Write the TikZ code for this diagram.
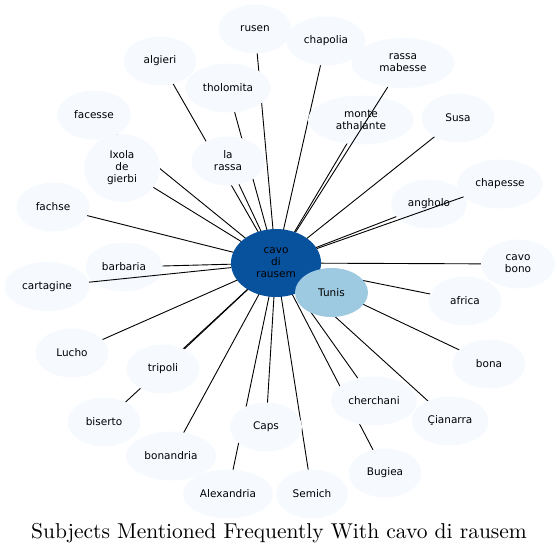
\documentclass[tikz,border=0pt]{standalone}
\usepackage{fontspec}
\newfontfamily\placefont{DejaVu Sans}
\newfontfamily\titlefont{lmroman10-regular.otf}
\usetikzlibrary{shapes.geometric,backgrounds}
\definecolor{HubBlue}{RGB}{8,81,156}
\definecolor{NearBlue}{RGB}{158,202,225}
\definecolor{PaleBlue}{RGB}{246,250,255}

\begin{document}
\begin{tikzpicture}[
  x=1pt, y=-1pt,
  place/.style={ellipse, fill=PaleBlue, inner sep=0pt, align=center,
    minimum width=73pt, minimum height=49pt,
    font=\placefont\fontsize{10.5}{12}\selectfont},
  hub/.style={place, fill=HubBlue, minimum width=90pt, minimum height=68pt},
  near/.style={place, fill=NearBlue},
  link/.style={draw=black, line width=0.9pt}
]
\useasboundingbox (0,0) rectangle (559,554);
% hub and its places
\node[hub] (cavo) at (276,263) {cavo\\di\\rausem};
\node[near] (tunis) at (331.5,292.5) {Tunis};
\node[place] (rusen) at (255,29) {rusen};
\node[place] (algieri) at (160,61) {algieri};
\node[place, minimum width=85pt] (tholomita) at (228,88) {tholomita};
\node[place, minimum width=74pt] (facesse) at (94,115) {facesse};
\node[place, minimum width=76pt, minimum height=68pt] (ixola) at (122,168) {Ixola\\de\\gierbi};
\node[place] (larassa) at (228,161) {la\\rassa};
\node[place] (fachse) at (53,207) {fachse};
\node[place, minimum width=77pt] (barbaria) at (124,267) {barbaria};
\node[place, minimum width=85pt] (cartagine) at (47,286.5) {cartagine};
\node[place] (lucho) at (72,353) {Lucho};
\node[place] (tripoli) at (163,369) {tripoli};
\node[place] (biserto) at (104,422) {biserto};
\node[place, minimum width=90pt] (bonandria) at (171,456) {bonandria};
\node[place, minimum width=72pt] (caps) at (266,427) {Caps};
\node[place, minimum width=90pt] (alexandria) at (228,494) {Alexandria};
\node[place, minimum width=72pt] (semich) at (312,494) {Semich};
\node[place] (bugiea) at (385,473) {Bugiea};
\node[place, minimum width=86pt] (cherchani) at (374,401) {cherchani};
\node[place, minimum width=77pt] (cianarra) at (450,421) {Çianarra};
\node[place] (bona) at (489,364) {bona};
\node[place] (africa) at (465,301) {africa};
\node[place, minimum width=74pt] (cavobono) at (518,264) {cavo\\bono};
\node[place, minimum width=85pt] (chapesse) at (500,184) {chapesse};
\node[place, minimum width=76pt] (angholo) at (429,204) {angholo};
\node[place] (susa) at (458,118) {Susa};
\node[place, minimum width=106pt] (monte) at (361,120) {monte\\athalante};
\node[place, minimum width=103pt, minimum height=50pt] (mabesse) at (403,63) {rassa\\mabesse};
\node[place, minimum width=79pt] (chapolia) at (326,41) {chapolia};
% links behind the places
\begin{pgfonlayer}{background}
\foreach \p in {tunis,rusen,algieri,tholomita,facesse,ixola,larassa,fachse,
  barbaria,lucho,tripoli,biserto,bonandria,caps,alexandria,semich,
  bugiea,cherchani,cianarra,bona,africa,cavobono,angholo,susa,monte,chapolia}
  \draw[link] (cavo.center) -- (\p.center);
\end{pgfonlayer}
% links drawn over other places
\draw[link] (cavo) -- (chapesse);
\draw[link] (cavo) -- (mabesse);
\draw[link] (cavo) -- (cartagine);
% title
\node[font=\titlefont\fontsize{21.5}{25}\selectfont, anchor=base] (title) at (279,538)
  {Subjects Mentioned Frequently With cavo di rausem};
\end{tikzpicture}
\end{document}
